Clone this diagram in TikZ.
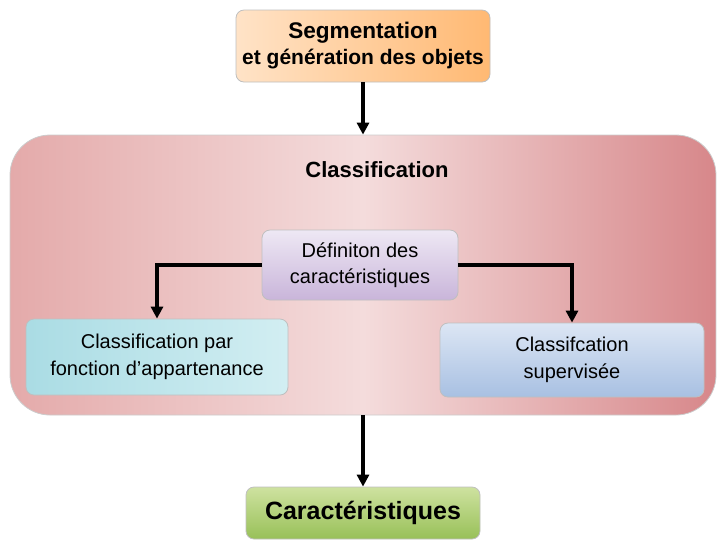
\documentclass[tikz,border=0pt]{standalone}
\usepackage{fontspec}
\setmainfont{Liberation Sans}
\usetikzlibrary{positioning, calc, shapes, arrows.meta}
\tikzstyle{Arrow} = [
%Black arrow between the boxes:
line width=1.6pt,
-{Triangle[width=6pt,length=6pt]}
]

\begin{document}
\begin{tikzpicture}[x=0.5pt, y=-0.5pt,
				box/.style = {rectangle, rounded corners=4pt, draw=gray!50, thin, text centered, align=center, inner sep=2pt},
				segbox/.style = {box, left color=orange!22, right color=orange!55, minimum width=127pt, minimum height=36pt},
				panel/.style = {rectangle, rounded corners=20pt, draw=gray!40, thin, left color={rgb,255:red,228;green,170;blue,170}, right color={rgb,255:red,215;green,135;blue,138}, middle color={rgb,255:red,244;green,220;blue,220}, minimum width=353pt, minimum height=140pt},
				defbox/.style = {box, top color={rgb,255:red,238;green,232;blue,244}, bottom color={rgb,255:red,201;green,181;blue,218}, minimum width=98pt, minimum height=35pt, font=\fontsize{10}{13}\selectfont},
				fctbox/.style = {box, left color={rgb,255:red,170;green,220;blue,228}, right color={rgb,255:red,210;green,238;blue,242}, minimum width=131pt, minimum height=38pt, font=\fontsize{10}{13.5}\selectfont},
				supbox/.style = {box, top color={rgb,255:red,220;green,230;blue,244}, bottom color={rgb,255:red,168;green,192;blue,226}, minimum width=132pt, minimum height=37pt, font=\fontsize{10}{13.5}\selectfont},
				carbox/.style = {box, top color={rgb,255:red,206;green,226;blue,160}, bottom color={rgb,255:red,152;green,192;blue,88}, minimum width=117pt, minimum height=26pt, font=\bfseries\fontsize{12.5}{15}\selectfont},
			]
			\useasboundingbox (0,0) rectangle (717,554);

			\node[segbox](seg) at (363,46){{\bfseries\fontsize{11.3}{13.5}\selectfont Segmentation}\\[1pt]{\bfseries\fontsize{10.5}{12}\selectfont et génération des objets}};
			\node[panel](classif) at (363,275){};
			\node(title) at (377,170){\bfseries\fontsize{11}{13}\selectfont Classification};
			\node[defbox](defin) at (360,265){Définiton des\\caractéristiques};
			\node[fctbox](fonct) at (157,357){Classification par\\fonction d'appartenance};
			\node[supbox](superv) at (572,360){Classifcation\\supervisée};
			\node[carbox](caract) at (363,513){Caractéristiques};

			\draw[Arrow](seg.south)--(seg.south |- classif.north);
			\draw[Arrow](defin.west)-|(fonct.north);
			\draw[Arrow](defin.east)-|(superv.north);
			\draw[Arrow](classif.south)--(caract.north);

		\end{tikzpicture}
\end{document}
